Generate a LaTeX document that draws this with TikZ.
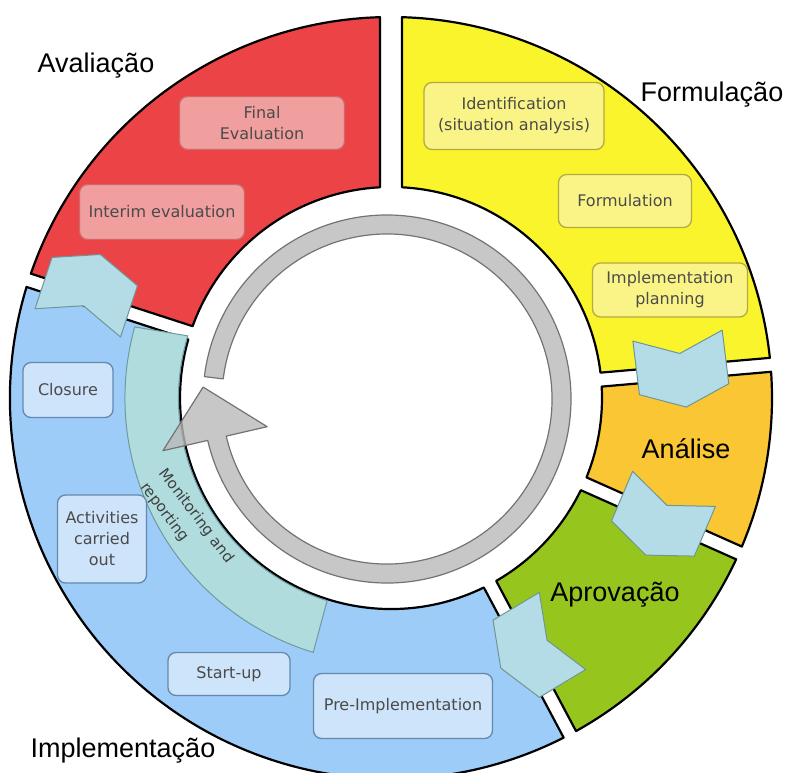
\documentclass[tikz,border=0pt]{standalone}
\usepackage{fontspec}
\setmainfont{Liberation Sans}
\newfontfamily\boxfont{DejaVu Sans}
\usetikzlibrary{calc}
\definecolor{segred}{RGB}{236,68,70}
\definecolor{segyel}{RGB}{250,244,45}
\definecolor{segorg}{RGB}{250,198,52}
\definecolor{seggrn}{RGB}{150,198,30}
\definecolor{segblu}{RGB}{158,204,248}
\definecolor{tealband}{RGB}{176,220,222}
\definecolor{tealline}{RGB}{110,155,160}
\definecolor{chevfill}{RGB}{180,220,230}
\definecolor{chevline}{RGB}{110,150,150}
\definecolor{pinkbox}{RGB}{240,158,158}
\definecolor{pinkline}{RGB}{205,105,105}
\definecolor{yelbox}{RGB}{250,244,135}
\definecolor{yelline}{RGB}{180,170,65}
\definecolor{blubox}{RGB}{205,228,250}
\definecolor{bluline}{RGB}{100,135,175}
\definecolor{boxtext}{RGB}{75,75,75}
\definecolor{grayfill}{RGB}{185,185,185}
\definecolor{grayline}{RGB}{115,115,115}
\newcommand{\ringseg}[5]{%
  \pgfmathsetmacro\segaA{#1+asin(#3/211)}%
  \pgfmathsetmacro\segaB{#1+asin(#3/381)}%
  \pgfmathsetmacro\segaC{#2-asin(#4/381)}%
  \pgfmathsetmacro\segaD{#2-asin(#4/211)}%
  \draw[seg,fill=#5] (\segaA:211pt) -- (\segaB:381pt)
    arc[start angle=\segaB, end angle=\segaC, radius=381pt]
    -- (\segaD:211pt)
    arc[start angle=\segaD, end angle=\segaA, radius=211pt] -- cycle;}
\newcommand{\chevshape}[2]{%
  \begin{scope}[rotate=#1, xshift=#2pt]
    \draw[chev] (-45,27) -- (0,9) -- (45,27) -- (45,-27) -- (0,-45) -- (-45,-27) -- cycle;
  \end{scope}}
\begin{document}
\begin{tikzpicture}[x=1pt,y=1pt,
  seg/.style={draw=black, line width=2.2pt, line join=round},
  chev/.style={fill=chevfill, draw=chevline, line width=1pt, line join=round},
  band/.style={fill=tealband, draw=tealline, line width=1pt},
  grayarrow/.style={fill=grayfill, fill opacity=0.8, draw=grayline, line width=1.2pt, line join=round},
  box/.style={rounded corners=8pt, line width=1.3pt, align=center,
    font=\boxfont\fontsize{16}{21}\selectfont, text=boxtext, inner sep=2pt},
  boxR/.style={box, fill=pinkbox, draw=pinkline},
  boxY/.style={box, fill=yelbox, draw=yelline},
  boxB/.style={box, fill=blubox, draw=bluline},
  biglabel/.style={font=\fontsize{27}{30}\selectfont, text=black, anchor=base, inner sep=0pt}
]
\fill[white] (0,0) rectangle (792,-772);
\useasboundingbox (0,0) rectangle (792,-772);
\clip (0,0) rectangle (792,-772);

\begin{scope}[shift={(391,-398)}]
  \ringseg{90}{162}{11}{7}{segred}
  \ringseg{5}{90}{7}{11}{segyel}
  \ringseg{-24}{5}{7}{7}{segorg}
  \ringseg{-62}{-24}{7}{7}{seggrn}
  \ringseg{-198}{-62}{7}{7}{segblu}
  % monitoring band
  \draw[band] (163:212.5pt) -- (164.5:266pt)
    arc[start angle=164.5, end angle=253, radius=266pt]
    -- (252.5:212.5pt)
    arc[start angle=252.5, end angle=163, radius=212.5pt] -- cycle;
\end{scope}

% boxes
\node[boxR, minimum width=165pt, minimum height=53pt] (finaleval) at (262,-123) {Final\\Evaluation};
\node[boxR, minimum width=165pt, minimum height=55pt] (interim) at (162,-212) {Interim evaluation};
\node[boxY, minimum width=180pt, minimum height=67pt] (ident) at (514,-116) {Identification\\(situation analysis)};
\node[boxY, minimum width=133pt, minimum height=53pt] (formul) at (625,-201) {Formulation};
\node[boxY, minimum width=155pt, minimum height=54pt] (implplan) at (670,-290) {Implementation\\planning};
\node[boxB, minimum width=90pt, minimum height=55pt] (closure) at (68,-390) {Closure};
\node[boxB, minimum width=89pt, minimum height=88pt] (activ) at (102,-539) {Activities\\carried\\out};
\node[boxB, minimum width=122pt, minimum height=43pt] (startup) at (229,-674) {Start-up};
\node[boxB, minimum width=179pt, minimum height=65pt] (preimpl) at (403,-706) {Pre-Implementation};

% chevrons
\begin{scope}[shift={(391,-398)}]
  \chevshape{161.7}{321}
  \chevshape{7}{292}
  \chevshape{-23}{296}
  \chevshape{-59}{288}
\end{scope}

% gray cycle arrow
\begin{scope}[shift={(387,-399)}]
  \draw[grayarrow] (173:165pt) -- (173:184pt)
    arc[start angle=173, end angle=-167, radius=184pt]
    -- (-167:230pt) -- ($(-167:176.5pt)+(103:53pt)$) -- (-167:123pt)
    -- (-167:165pt)
    arc[start angle=-167, end angle=173, radius=165pt] -- cycle;
\end{scope}

\node[rotate=-53, align=left, font=\boxfont\fontsize{15}{23}\selectfont, text=black!75] (monitor) at (187,-523) {Monitoring and\\reporting};

% phase labels
\node[biglabel] (avaliacao) at (96,-72.5) {Avaliação};
\node[biglabel] (formulacao) at (712,-101.5) {Formulação};
\node[biglabel] (analise) at (686,-458) {Análise};
\node[biglabel] (aprovacao) at (615,-601.5) {Aprovação};
\node[biglabel] (implementacao) at (123,-757) {Implementação};
\end{tikzpicture}
\end{document}
